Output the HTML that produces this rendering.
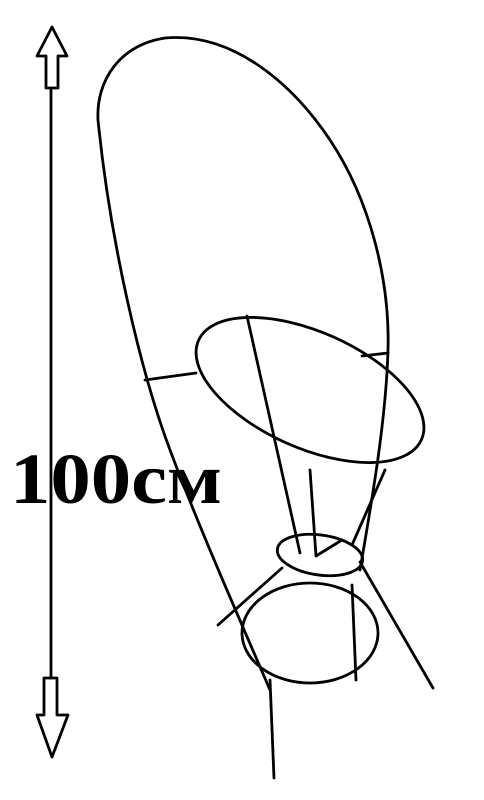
<!DOCTYPE html>
<html><head><meta charset="utf-8"><style>
html,body{margin:0;padding:0;background:#fff;width:484px;height:800px;overflow:hidden}
</style></head><body>
<svg width="484" height="800" viewBox="0 0 484 800" fill="none" stroke="#000" stroke-width="2.8" stroke-linejoin="round" stroke-linecap="round">
<g>
<line x1="51" y1="88" x2="51" y2="678"/>
<path d="M52,27 L67,56 L58,56 L58,88 L46,88 L46,56 L37,56 Z"/>
<path d="M44,678 L57,678 L57,715 L68,715 L52,757 L37,715 L44,715 Z"/>
</g>
<text x="10" y="503" textLength="212" lengthAdjust="spacingAndGlyphs" font-family="Liberation Serif, serif" font-weight="bold" font-size="72" fill="#000" stroke="none">100см</text>
<path d="M270,690 C240,620 200,530 170,450 C140,370 110,240 98,120 C96,80 120,45 165,38 C230,32 290,80 330,140 C370,200 390,280 388,350 C386,420 372,500 360,570"/>
<line x1="145" y1="380" x2="196" y2="373"/>
<line x1="362" y1="356" x2="388" y2="353"/>
<ellipse cx="310" cy="390" rx="122" ry="58" transform="rotate(24 310 390)"/>
<line x1="247" y1="316" x2="300" y2="553"/>
<line x1="385" y1="470" x2="352" y2="545"/>
<ellipse cx="320" cy="555" rx="43" ry="20" transform="rotate(8 320 555)"/>
<path d="M310,470 L316,556 L342,540"/>
<ellipse cx="310" cy="633" rx="68" ry="50"/>
<line x1="218" y1="625" x2="282" y2="568"/>
<line x1="360" y1="562" x2="433" y2="688"/>
<line x1="270" y1="680" x2="274" y2="778"/>
<line x1="352" y1="585" x2="356" y2="680"/>
</g>
</svg>
</body></html>
